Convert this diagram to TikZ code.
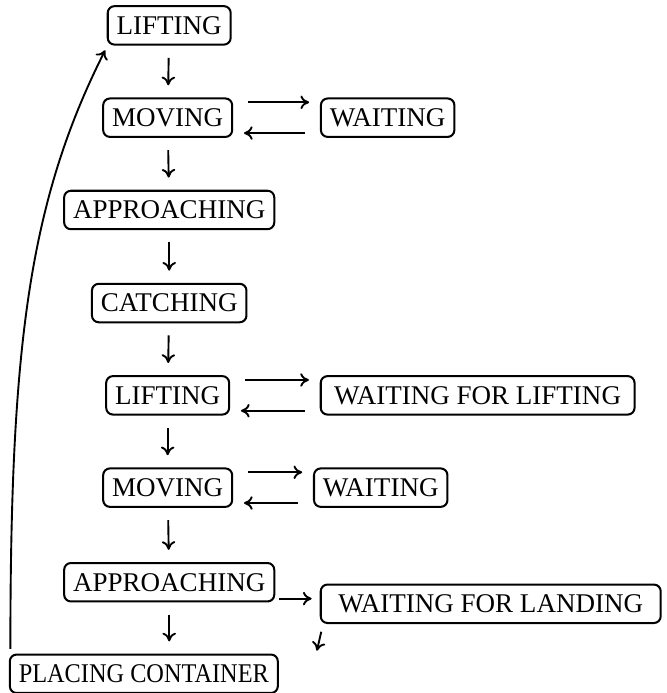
\documentclass[tikz,border=0pt]{standalone}
\usepackage{fontspec}
\setmainfont{Liberation Serif}
\newfontfamily\narrowserif[FakeStretch=0.9]{Liberation Serif}
\usepackage{tikz}
\usetikzlibrary{arrows.meta, positioning, calc}
\tikzset{
  statebox/.style={
    draw, rounded corners=2.5pt, line width=0.75pt,
    minimum height=0.5cm, inner sep=3.3pt, font=\normalsize,
  },
  arw/.style={-{To[length=3.2pt,width=5pt]}, line width=0.7pt, shorten >=4.5pt, shorten <=4.5pt},
  harw/.style={-{To[length=3.2pt,width=5pt]}, line width=0.7pt, shorten >=4pt, shorten <=5.5pt},
  tarw/.style={-{To[length=3.2pt,width=5pt]}, line width=0.7pt},
}
\begin{document}
\begin{tikzpicture}
  \useasboundingbox (0,0) rectangle (8.67,-9.01);

  \node[statebox] (lift1) at (2.20,-0.33) {LIFTING};
  \node[statebox] (move1) at (2.18,-1.53) {MOVING};
  \node[statebox] (wait1) at (5.04,-1.53) {WAITING};
  \node[statebox] (appr1) at (2.20,-2.73) {APPROACHING};
  \node[statebox] (catch) at (2.20,-3.94) {CATCHING};
  \node[statebox] (lift2) at (2.18,-5.14) {LIFTING};
  \node[statebox, minimum width=4.08cm] (waitlift) at (6.21,-5.14) {WAITING FOR LIFTING};
  \node[statebox] (move2) at (2.18,-6.34) {MOVING};
  \node[statebox] (wait2) at (4.95,-6.34) {WAITING};
  \node[statebox] (appr2) at (2.20,-7.57) {APPROACHING};
  \node[statebox, minimum width=4.42cm] (waitland) at (6.38,-7.85) {WAITING FOR LANDING};
  \node[statebox, font=\narrowserif] (place) at (1.87,-8.76) {PLACING CONTAINER};

  % main sequence
  \draw[arw] (lift1) -- (move1);
  \draw[arw] (move1) -- (appr1);
  \draw[arw] (appr1) -- (catch);
  \draw[arw] (catch) -- (lift2);
  \draw[arw] (lift2) -- (move2);
  \draw[arw] (move2) -- (appr2);
  \draw[arw] (appr2) -- (appr2 |- place.north);

  % waiting loops
  \draw[harw] ([yshift=0.2cm]move1.east) -- ([yshift=0.2cm]move1.east -| wait1.west);
  \draw[harw] ([yshift=-0.2cm]move1.east -| wait1.west) -- ([yshift=-0.2cm]move1.east);
  \draw[harw] ([yshift=0.2cm]lift2.east) -- ([yshift=0.2cm]lift2.east -| waitlift.west);
  \draw[harw] ([yshift=-0.2cm]lift2.east -| waitlift.west) -- ([yshift=-0.2cm]lift2.east);
  \draw[harw] ([yshift=0.2cm]move2.east) -- ([yshift=0.2cm]move2.east -| wait2.west);
  \draw[harw] ([yshift=-0.2cm]move2.east -| wait2.west) -- ([yshift=-0.2cm]move2.east);

  % landing
  \draw[tarw, shorten >=3pt, shorten <=1.5pt]
    ([yshift=0.05cm]appr2.south east) -- ([yshift=0.05cm]appr2.south east -| waitland.west);
  \coordinate (landend) at (4.12,-8.46);
  \draw[tarw] ([xshift=0.02cm,yshift=-0.1cm]waitland.south west) -- (landend);

  % back to start
  \draw[tarw]
    ([xshift=0.02cm,yshift=0.06cm]place.north west) .. controls +(0,3.9) and +(-1.0,-1.98) ..
    ([xshift=-0.02cm,yshift=-0.06cm]lift1.south west);
\end{tikzpicture}
\end{document}
